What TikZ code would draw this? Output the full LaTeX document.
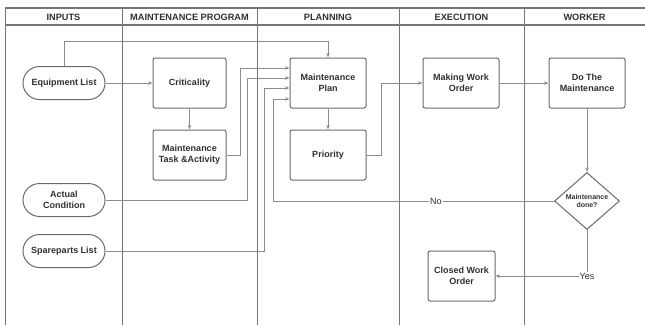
\documentclass[tikz,border=0pt]{standalone}
\usepackage{fontspec}
\setmainfont{Liberation Sans}
\usepackage{xcolor}
\usetikzlibrary{shapes,arrows.meta,positioning,calc}

\definecolor{lanegray}{HTML}{757575}
\definecolor{linegray}{HTML}{8C8C8C}
\definecolor{boxgray}{HTML}{6A6A6A}
\definecolor{txtgray}{HTML}{303030}

\begin{document}
\begin{tikzpicture}[x=1pt,y=-1pt,
  box/.style={draw=boxgray,line width=1pt,rounded corners=2pt,minimum width=73pt,minimum height=50pt,align=center,text=txtgray,font=\fontsize{9}{11}\selectfont\bfseries},
  pill/.style={draw=boxgray,line width=1pt,rounded rectangle,minimum width=84pt,minimum height=33pt,inner sep=1pt,align=center,text=txtgray,font=\fontsize{9}{11}\selectfont\bfseries},
  decide/.style={draw=boxgray,line width=1pt,diamond,minimum width=65pt,minimum height=57pt,inner sep=0pt,align=center,text=txtgray,font=\fontsize{7}{8.5}\selectfont\bfseries},
  lanehead/.style={text=txtgray,font=\fontsize{9.2}{11}\selectfont\bfseries},
  flow/.style={draw=linegray,line width=1pt,-{Stealth[length=4.5pt,width=3.5pt]}},
  answer/.style={fill=white,inner sep=1pt,text=txtgray,font=\fontsize{9}{11}\selectfont}]
\useasboundingbox (0,0) rectangle (645,325);

% Lanes
\draw[lanegray,line width=1.1pt] (5,8) -- (645,8);
\draw[lanegray,line width=1.1pt] (5,25) -- (645,25);
\foreach \x in {5,122,257,399,524}
  \draw[lanegray,line width=0.8pt] (\x,8) -- (\x,325);

% Lane titles
\node[lanehead] (hInputs) at (63.5,17) {INPUTS};
\node[lanehead] (hProgram) at (189.5,17) {MAINTENANCE PROGRAM};
\node[lanehead] (hPlanning) at (328,17) {PLANNING};
\node[lanehead] (hExecution) at (461.5,17) {EXECUTION};
\node[lanehead] (hWorker) at (584.5,17) {WORKER};

% Inputs
\node[pill] (equip) at (64,83) {Equipment List};
\node[pill] (actual) at (64,200) {Actual\\Condition};
\node[pill] (spare) at (64,251) {Spareparts List};

% Maintenance program
\node[box] (crit) at (189.5,83) {Criticality};
\node[box] (task) at (189.5,155) {Maintenance\\Task \&Activity};

% Planning
\node[box,minimum width=76pt] (plan) at (328,83) {Maintenance\\Plan};
\node[box,minimum width=76pt] (prio) at (328,155) {Priority};

% Execution
\node[box,minimum width=76pt] (mwo) at (461,83) {Making Work\\Order};
\node[box,minimum width=67pt] (closed) at (461.5,276) {Closed Work\\Order};

% Worker
\node[box,minimum width=76pt] (doit) at (587,83) {Do The\\Maintenance};
\node[decide] (done) at (587,201) {Maintenance\\done?};

% Connectors
\draw[flow] (equip.north) -- ++(0,-25) -| (plan.north);
\draw[flow] (equip.east) -- (crit.west);
\draw[flow] (crit.south) -- (task.north);
\draw[flow] (task.east) -- ++(14,0) |- ($(plan.west)+(0,-15)$);
\draw[flow] (actual.east) -- ++(142,0) |- ($(plan.west)+(0,-5)$);
\draw[flow] (spare.east) -- ++(159,0) |- ($(plan.west)+(0,5)$);
\draw[flow] (done.west) -- node[answer,pos=0.42] (no) {No} ++(-281,0) |- ($(plan.west)+(0,16)$);
\draw[flow] (plan.south) -- (prio.north);
\draw[flow] (prio.east) -- ++(15,0) |- (mwo.west);
\draw[flow] (mwo.east) -- (doit.west);
\draw[flow] (doit.south) -- (done.north);
\draw[flow] (done.south) |- node[answer,pos=0.5] (yes) {Yes} (closed.east);
\end{tikzpicture}
\end{document}
